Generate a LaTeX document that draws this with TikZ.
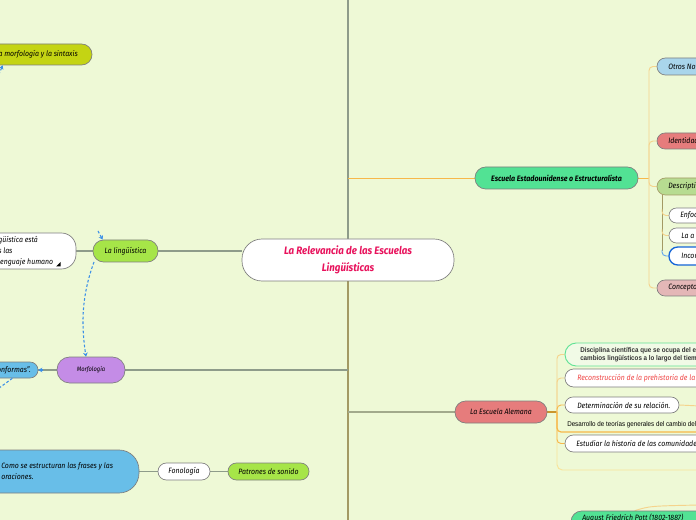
\documentclass[tikz,border=0pt]{standalone}
\usepackage{fontspec}
\setmainfont{Fira Sans}[FakeStretch=0.9]
\newfontfamily\arialn{Liberation Sans}[FakeStretch=0.9]
\usetikzlibrary{calc,arrows.meta}
\definecolor{bgc}{HTML}{EEF9D6}
\definecolor{bord}{HTML}{7E7E7E}
\definecolor{glc}{HTML}{8E9C8A}
\definecolor{olc}{HTML}{A39A64}
\definecolor{orc}{HTML}{F7B84A}
\definecolor{lorc}{HTML}{F5D38C}
\definecolor{brc}{HTML}{C9962E}
\definecolor{mlc}{HTML}{A2AA8C}
\definecolor{dashb}{HTML}{3A8FE8}
\definecolor{ylc}{HTML}{C4D413}
\definecolor{lgreen}{HTML}{A6E548}
\definecolor{purp}{HTML}{C48CE6}
\definecolor{blu}{HTML}{68BEE8}
\definecolor{grn}{HTML}{52E294}
\definecolor{sal}{HTML}{E67C7C}
\definecolor{lblu}{HTML}{A9D5EB}
\definecolor{dgr}{HTML}{B7DC91}
\definecolor{pnk}{HTML}{E4B7B7}
\definecolor{rootc}{HTML}{E8125C}
\definecolor{recoc}{HTML}{F04545}
\definecolor{incb}{HTML}{1565D8}
\definecolor{discb}{HTML}{62E296}
\definecolor{discf}{HTML}{F1FAE6}
\definecolor{yelc}{HTML}{F8E49A}
\pgfdeclarelayer{back}
\pgfdeclarelayer{links}
\pgfsetlayers{back,links,main}
\newcommand\pill[7]{%
  \pgfmathsetmacro\pw{(#4-#2)*0.75}\pgfmathsetmacro\ph{(#5-#3)*0.75}%
  \node[#6, minimum width=\pw pt, minimum height=\ph pt] (#1) at ({(#2+#4)/2},{(#3+#5)/2}) {#7};}
\begin{document}
\begin{tikzpicture}[x=0.75pt,y=-0.75pt,
  nd/.style={draw=bord, line width=0.5pt, inner sep=0pt, font=\fontsize{5.8}{6.8}\selectfont\itshape, text=black},
  txt/.style={inner sep=0pt, font=\fontsize{5.8}{8.2}\selectfont\itshape, text=black, align=left},
  gl/.style={draw=glc, line width=0.8pt},
  ol/.style={draw=olc, line width=0.8pt},
  orl/.style={draw=orc, line width=0.7pt},
  lor/.style={draw=lorc, line width=0.7pt, rounded corners=3pt},
  brl/.style={draw=brc, line width=0.8pt},
  ml/.style={draw=mlc, line width=0.8pt},
  dblue/.style={draw=dashb, dash pattern=on 2pt off 1.5pt, line width=0.8pt, -{Stealth[length=3pt,width=3.5pt]}}]
\begin{pgfonlayer}{back}
\fill[bgc] (0,0) rectangle (696,520);
\end{pgfonlayer}
\useasboundingbox (0,0) rectangle (696,520);

% ---------- nodes ----------
\pill{root}{242}{239}{454}{281}{nd, fill=white, rounded corners=15pt, font=\fontsize{8.1}{12.7}\selectfont\bfseries\itshape, text=rootc, align=center}{La Relevancia de las Escuelas\\Lingüísticas}

% left side
\pill{yl}{-40}{44}{92}{65}{nd, fill=ylc, rounded corners=7.8pt}{}
\node[txt, anchor=east] (ylt) at (78,54.5) {la morfología y la sintaxis};
\pill{wl}{-40}{233}{76}{269}{nd, fill=white, rounded corners=11pt}{}
\node[txt, anchor=west] (wlt) at (-2,251.5) {güística está\\s las\\lenguaje humano};
\fill[black] (56,266.5) -- (60.5,266.5) -- (60.5,262) -- cycle;
\pill{ling}{93}{240}{158}{262}{nd, fill=lgreen, rounded corners=8pt}{La lingüística}
\pill{morf}{57}{357}{125}{383}{nd, fill=purp, rounded corners=9.5pt, font=\fontsize{4.8}{6}\selectfont\itshape}{Morfología}
\pill{bl1}{-40}{362}{38}{378}{nd, fill=blu, rounded corners=6pt}{}
\node[txt, anchor=east] (bl1t) at (31,370) {conformas”.};
\pill{bl2}{-40}{450}{139}{493}{nd, fill=blu, rounded corners=15pt}{}
\node[txt, anchor=west] (bl2t) at (1,471.5) {Como se estructuran las frases y las\\oraciones.};
\pill{fono}{158}{463}{210}{480}{nd, fill=white, rounded corners=6.3pt}{Fonología}
\pill{patr}{228}{463}{309}{480}{nd, fill=lgreen, rounded corners=6.3pt}{Patrones de sonido}

% right side, upper
\pill{estu}{475}{167}{638}{189}{nd, fill=grn, rounded corners=8pt, font=\fontsize{5.9}{6.8}\selectfont\bfseries\itshape}{Escuela Estadounidense o Estructuralista}
\pill{otr}{657}{58}{760}{75}{nd, fill=lblu, rounded corners=6.3pt}{}
\node[txt, anchor=west] (otrt) at (668,66.5) {Otros Nov};
\pill{iden}{657}{133}{760}{149}{nd, fill=sal, rounded corners=6pt}{}
\node[txt, anchor=west] (ident) at (668,141) {Identidad};
\pill{desc}{657}{178}{760}{195}{nd, draw=olc, fill=dgr, rounded corners=6.3pt}{}
\node[txt, anchor=west] (desct) at (668,186.5) {Descriptiv};
\pill{enf}{669}{208}{760}{223}{nd, fill=white, rounded corners=5.6pt}{}
\node[txt, anchor=west] (enft) at (680,215.5) {Enfoq};
\pill{laa}{669}{228}{760}{243}{nd, fill=white, rounded corners=5.6pt}{}
\node[txt, anchor=west] (laat) at (681,235.5) {La a};
\pill{inc}{669}{247}{760}{265}{nd, draw=incb, line width=1pt, fill=white, rounded corners=6.5pt}{}
\node[txt, anchor=west] (inct) at (681,256) {Incom};
\pill{conc}{657}{280}{760}{296}{nd, fill=pnk, rounded corners=6pt}{}
\node[txt, anchor=west] (conct) at (668,288) {Concepto};

% right side, lower
\pill{alem}{455}{401}{547}{423}{nd, fill=sal, rounded corners=8pt}{La Escuela Alemana}
\pill{disc}{565}{343}{760}{366}{nd, draw=discb, line width=0.7pt, fill=discf, rounded corners=8.5pt}{}
\node[inner sep=0pt, anchor=west, align=left, font=\arialn\fontsize{5.2}{6}\selectfont\bfseries, text=black!80] (disct) at (580,355) {Disciplina científica que se ocupa del e\\cambios lingüísticos a lo largo del tiem};
\pill{reco}{565}{369}{760}{387}{nd, fill=white, rounded corners=6.5pt}{}
\node[txt, anchor=west, text=recoc] (recot) at (577,378) {Reconstrucción de la prehistoria de la};
\pill{deter}{565}{397}{679}{413}{nd, fill=white, rounded corners=6pt}{}
\node[txt, anchor=west] (detert) at (577,405) {Determinación de su relación.};
\node[inner sep=0pt, anchor=west, font=\arialn\fontsize{5.2}{6}\selectfont, text=black] (desa) at (567,425) {Desarrollo de teorías generales del cambio del};
\pill{estud}{565}{435}{760}{452}{nd, fill=white, rounded corners=6.3pt}{}
\node[txt, anchor=west] (estudt) at (576,443.5) {Estudiar la historia de las comunidades};
\pill{aug}{571}{511}{760}{540}{nd, fill=grn, rounded corners=8pt}{}
\node[txt, anchor=west] (augt) at (582,518.5) {August Friedrich Pott (1802-1887)};

% ---------- coordinates ----------
\coordinate (ctop) at (348,-5);
\coordinate (cbot) at (348,525);
\coordinate (rv) at (649,178);
\coordinate (dv) at (662,195);
\coordinate (av) at (557,412);
\coordinate (dr) at (700,406);
\coordinate (dz) at (700,432);
\coordinate (fr) at (700,470);
\coordinate (ac) at (700,505);
\coordinate (s1) at (98,231);
\coordinate (s2) at (-3,79);
\coordinate (s3) at (-5,391);

% ---------- connectors ----------
\begin{pgfonlayer}{links}
\draw[gl] (root.north) -- (ctop);
\draw[ol] (root.south) -- (cbot);
\draw[gl] (ling.east) -- (ling.east -| root.west);
\draw[gl] (wl.east) -- (ling.west);
\draw[gl] (morf.east) -- (morf.east -| ctop);
\draw[gl] (morf.west) -- (bl1.east);
\draw[gl] (bl2.east) -- (fono.west);
\draw[gl] (fono.east) -- (patr.west);
\draw[orl] (estu.west -| ctop) -- (estu.west);
\draw[orl] (estu.east) -- (rv);
\draw[lor] (rv) |- (otr.west);
\draw[lor] (rv) |- (iden.west);
\draw[lor] (rv) |- (desc.west);
\draw[lor] (rv) |- (conc.west);
\draw[draw=olc, line width=0.6pt] (dv) -- ($(dv |- inc.west)+(0,-5)$);
\draw[lor] ($(dv |- enf.west)+(0,-6)$) |- (enf.west);
\draw[lor] ($(dv |- laa.west)+(0,-6)$) |- (laa.west);
\draw[lor, draw=dashb!80] ($(dv |- inc.west)+(0,-6)$) |- (inc.west);
\draw[ml] (alem.west -| ctop) -- (alem.west);
\draw[brl] (alem.east) -- (av);
\draw[draw=yelc, line width=0.7pt, rounded corners=4pt] (av) -- (av |- fr) -- (fr);
\draw[lor] (av) |- (disc.west);
\draw[lor] (av) |- (reco.west);
\draw[lor, draw=orc] (av) |- (deter.west);
\draw[lor, draw=orc] (av) |- (estud.west);
\draw[draw=orc, line width=0.9pt, rounded corners=3pt] (av) |- (dz);
\draw[lor] (deter.east) -- (dr);
\draw[lor] ($(aug.north west)+(64,0)$) .. controls (650,506) .. (ac);
\end{pgfonlayer}

% dashed relations
\draw[dblue] (94,262) .. controls (80,300) and (82,330) .. ($(morf.north)+(-5,0)$);
\draw[dblue] (s1) -- ($(ling.north west)+(10,0)$);
\draw[dblue] (s2) -- ($(yl.south west)+(43,0)$);
\draw[dblue] ($(bl1.east)+(5,0)$) -- (bl1.east);
\draw[dblue, -] ($(bl1.south east)+(-26,0)$) -- (s3);
\end{tikzpicture}
\end{document}
